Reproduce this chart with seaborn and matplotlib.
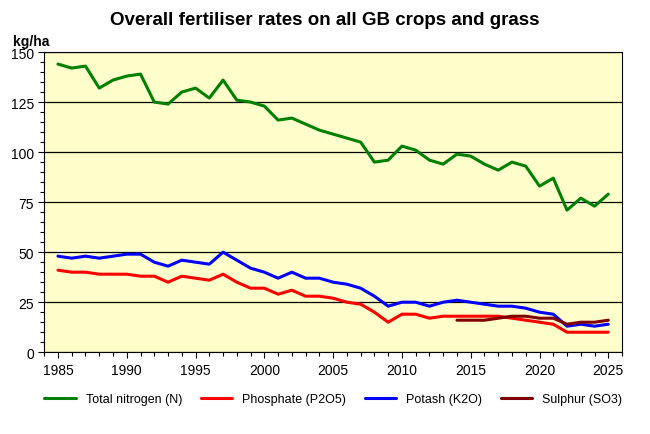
import matplotlib
matplotlib.use("Agg")
import matplotlib.pyplot as plt
import seaborn as sns
import pandas as pd

years = list(range(1985, 2026))
nitrogen = [144,142,143,132,136,138,139,125,124,130,132,127,136,126,125,123,116,117,114,111,109,107,105,95,96,103,101,96,94,99,98,94,91,95,93,83,87,71,77,73,79]
potash = [48,47,48,47,48,49,49,45,43,46,45,44,50,46,42,40,37,40,37,37,35,34,32,28,23,25,25,23,25,26,25,24,23,23,22,20,19,13,14,13,14]
phosphate = [41,40,40,39,39,39,38,38,35,38,37,36,39,35,32,32,29,31,28,28,27,25,24,20,15,19,19,17,18,18,18,18,18,17,16,15,14,10,10,10,10]
sulphur_years = list(range(2014, 2026))
sulphur = [16,16,16,17,18,18,17,17,14,15,15,16]

sns.set_style("white")
plt.rcParams['font.family'] = ['Liberation Sans', 'DejaVu Sans']
plt.rcParams['text.color'] = 'black'
plt.rcParams['xtick.color'] = 'black'
plt.rcParams['ytick.color'] = 'black'

fig = plt.figure(figsize=(6.5, 4.35), dpi=100)
ax = fig.add_axes([0.068, 0.188, 0.889, 0.69])
ax.set_facecolor('#FFFFCC')

sns.lineplot(x=years, y=nitrogen, ax=ax, color='#008000', lw=2.2, label='Total nitrogen (N)')
sns.lineplot(x=years, y=phosphate, ax=ax, color='#FF0000', lw=2.2, label='Phosphate (P2O5)')
sns.lineplot(x=years, y=potash, ax=ax, color='#0000FF', lw=2.2, label='Potash (K2O)')
sns.lineplot(x=sulphur_years, y=sulphur, ax=ax, color='#800000', lw=2.2, label='Sulphur (SO3)')

ax.set_xlim(1984, 2026)
ax.set_ylim(0, 150)
ax.set_xticks(range(1985, 2026, 5))
ax.set_xticks(range(1984, 2027), minor=True)
ax.set_yticks(range(0, 151, 25))
ax.set_yticks(range(0, 151, 5), minor=True)
ax.tick_params(which='both', direction='out', length=4, width=0.8, bottom=True, left=True, labelsize=10)
ax.tick_params(which='minor', length=3)
ax.grid(axis='y', color='black', lw=0.9)
for s in ax.spines.values():
    s.set_color('black'); s.set_linewidth(0.8)
ax.set_axisbelow(True)

ax.legend(loc='upper center', bbox_to_anchor=(0.5, -0.1), ncol=4, frameon=False, fontsize=9,
          handlelength=2.5, columnspacing=1.5)
fig.text(0.5, 0.952, 'Overall fertiliser rates on all GB crops and grass', ha='center', va='center',
         fontsize=13.5, fontweight='bold', color='black')
fig.text(0.02, 0.903, 'kg/ha', ha='left', va='center', fontsize=10, fontweight='bold', color='black')
fig.savefig('out.png', dpi=100)
